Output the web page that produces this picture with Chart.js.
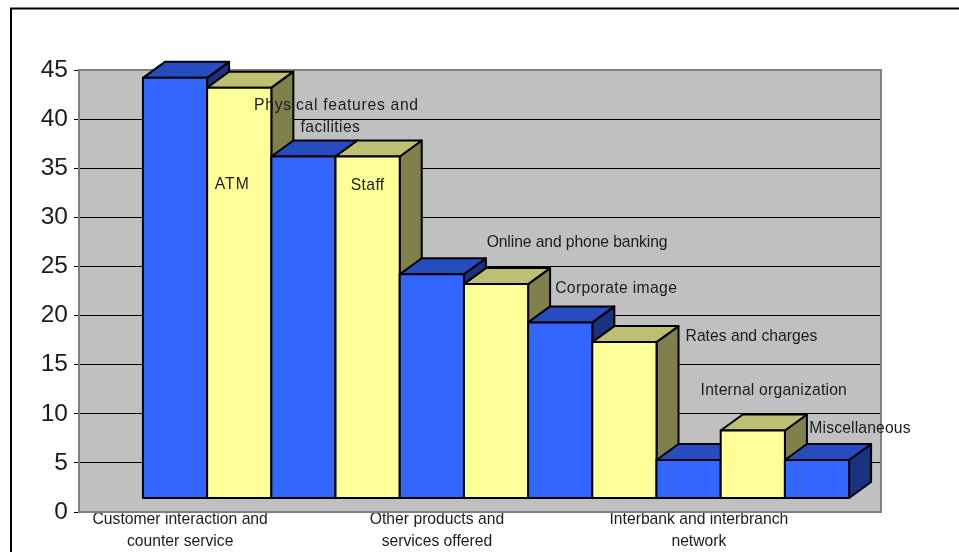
<!DOCTYPE html>
<html>
<head>
<meta charset="utf-8">
<title>Service attributes</title>
<script src="https://cdn.jsdelivr.net/npm/chart.js@4/dist/chart.umd.min.js"></script>
<style>
  html, body { margin: 0; padding: 0; background: #fff; }
  canvas { display: block; }
</style>
</head>
<body>
<canvas id="chart" width="959" height="552"></canvas>
<script>
  const BAR_NAMES = [
    "Customer interaction and counter service", "ATM", "Physical features and facilities", "Staff",
    "Other products and services offered", "Online and phone banking", "Corporate image", "Rates and charges",
    "Interbank and interbranch network", "Internal organization", "Miscellaneous",
  ];
  const BAR_VALUES = [44.2, 43.2, 36.2, 36.2, 24.2, 23.2, 19.3, 17.3, 5.3, 8.3, 5.3];
  const FLOOR_VALUE = 1.43;
  const Y_TICKS = [0, 5, 10, 15, 20, 25, 30, 35, 40, 45];

  // text lines for the names that sit on the axis, and those placed next to their bar
  const AXIS_NAMES = [
    { bar: 0, nudge: 0.08, lines: ["Customer interaction and", "counter service"] },
    { bar: 4, nudge: 0.08, lines: ["Other products and", "services offered"] },
    { bar: 8, nudge: 0.16, lines: ["Interbank and interbranch", "network"] },
  ];
  const BAR_NOTES = [
    { bar: 1, dx: -7, top: 185, spacing: 1, text: "ATM" },
    { bar: 2, dx: 33, top: 106, spacing: 0.7, text: "Physical features and" },
    { bar: 2, dx: 27, top: 128, spacing: 0.4, text: "facilities" },
    { bar: 3, dx: 0, top: 186, spacing: 0.4, text: "Staff" },
    { bar: 5, dx: 81, top: 243, spacing: -0.1, text: "Online and phone banking" },
    { bar: 6, dx: 56, top: 289, spacing: 0.35, text: "Corporate image" },
    { bar: 7, dx: 127, top: 337, spacing: 0, text: "Rates and charges" },
    { bar: 9, dx: 21, top: 391, spacing: 0.2, text: "Internal organization" },
    { bar: 10, dx: 43, top: 429, spacing: 0.15, text: "Miscellaneous" },
  ];

  const DEPTH_X = 22;
  const DEPTH_Y = 16;
  const FONT = '"Liberation Sans", Arial, sans-serif';
  const LABEL_SIZE = 15.7;
  const INK = "#1c1c1c";

  const BLUE = { front: "#3366ff", top: "#264cbf", side: "#1a3380" };
  const YELLOW = { front: "#ffff99", top: "#bfbf73", side: "#80804d" };
  const faces = (i) => (i % 2 === 0 ? BLUE : YELLOW);

  function polygon(ctx, fill, pts) {
    ctx.beginPath();
    pts.forEach(([x, y], i) => (i ? ctx.lineTo(x, y) : ctx.moveTo(x, y)));
    ctx.closePath();
    ctx.fillStyle = fill;
    ctx.fill();
    ctx.stroke();
  }

  // fake depth: side, lid, then the library's own front face, left to right
  const blocks = {
    id: "blocks",
    beforeDatasetDraw(chart, args) {
      const ctx = chart.ctx;
      ctx.save();
      ctx.strokeStyle = "#000";
      ctx.lineWidth = 2;
      ctx.lineJoin = "round";
      args.meta.data.forEach((bar, i) => {
        const { x, y, base, width } = bar.getProps(["x", "y", "base", "width"]);
        const l = x - width / 2, r = x + width / 2;
        const c = faces(i);
        polygon(ctx, c.side, [[r, y], [r + DEPTH_X, y - DEPTH_Y], [r + DEPTH_X, base - DEPTH_Y], [r, base]]);
        polygon(ctx, c.top, [[l, y], [l + DEPTH_X, y - DEPTH_Y], [r + DEPTH_X, y - DEPTH_Y], [r, y]]);
        bar.draw(ctx);
        ctx.strokeRect(l, y, width, base - y);
      });
      ctx.restore();
      return false;
    },
  };

  const wall = {
    id: "wall",
    beforeDraw(chart) {
      const { ctx, chartArea: a } = chart;
      ctx.save();
      ctx.strokeStyle = "#000";
      ctx.lineWidth = 2;
      ctx.beginPath();
      ctx.moveTo(11, 560);
      ctx.lineTo(11, 8.5);
      ctx.lineTo(960, 8.5);
      ctx.stroke();
      ctx.fillStyle = "#c0c0c0";
      ctx.fillRect(a.left, a.top, a.width, a.height);
      ctx.restore();
    },
    beforeDatasetsDraw(chart) {
      const { ctx, chartArea: a } = chart;
      ctx.save();
      ctx.strokeStyle = "#808080";
      ctx.lineWidth = 2;
      ctx.strokeRect(a.left, a.top, a.width, a.height);
      ctx.restore();
    },
  };

  const notes = {
    id: "notes",
    afterDatasetsDraw(chart) {
      const { ctx } = chart;
      const meta = chart.getDatasetMeta(0);
      ctx.save();
      ctx.font = LABEL_SIZE + "px " + FONT;
      ctx.fillStyle = INK;
      ctx.textAlign = "center";
      ctx.textBaseline = "middle";
      BAR_NOTES.forEach((n) => {
        ctx.letterSpacing = n.spacing + "px";
        ctx.fillText(n.text, meta.data[n.bar].x + n.dx, n.top);
      });
      ctx.restore();
    },
  };

  new Chart(document.getElementById("chart"), {
    type: "bar",
    plugins: [wall, blocks, notes],
    data: {
      labels: BAR_NAMES,
      datasets: [{
        label: "Attributes",
        data: BAR_VALUES.map((v, i) => ({ x: i + 1, y: [FLOOR_VALUE, v] })),
        backgroundColor: BAR_VALUES.map((_, i) => faces(i).front),
        borderWidth: 0,
        barPercentage: 1,
        categoryPercentage: 1,
      }],
    },
    options: {
      responsive: false,
      animation: false,
      layout: { padding: { left: 0, top: 70, right: 78, bottom: 0 } },
      plugins: { legend: { display: false }, tooltip: { enabled: false } },
      scales: {
        x: {
          type: "linear",
          offset: false,
          min: -0.496,
          max: 11.997,
          grid: { display: false },
          border: { display: false },
          afterFit(scale) {
            scale.height = 40;
            scale.paddingLeft = scale.paddingRight = 0;
          },
          afterBuildTicks(scale) {
            scale.ticks = AXIS_NAMES.map((n) => ({ value: n.bar + 1 + n.nudge }));
          },
          ticks: {
            autoSkip: false,
            maxRotation: 0,
            padding: -12,
            color: INK,
            font: { family: FONT, size: LABEL_SIZE, lineHeight: 1.45 },
            callback: (value) => AXIS_NAMES.find((n) => n.bar + 1 === Math.floor(value)).lines,
          },
        },
        y: {
          min: 0,
          max: 45,
          grid: { color: "#000", lineWidth: 1, tickLength: 5, drawTicks: true },
          border: { display: false },
          afterFit(scale) { scale.width = 79; },
          afterBuildTicks(scale) {
            scale.ticks = Y_TICKS.map((value) => ({ value }));
          },
          ticks: {
            padding: 6,
            color: INK,
            font: { family: FONT, size: 24.5 },
          },
        },
      },
    },
  });
</script>
</body>
</html>
